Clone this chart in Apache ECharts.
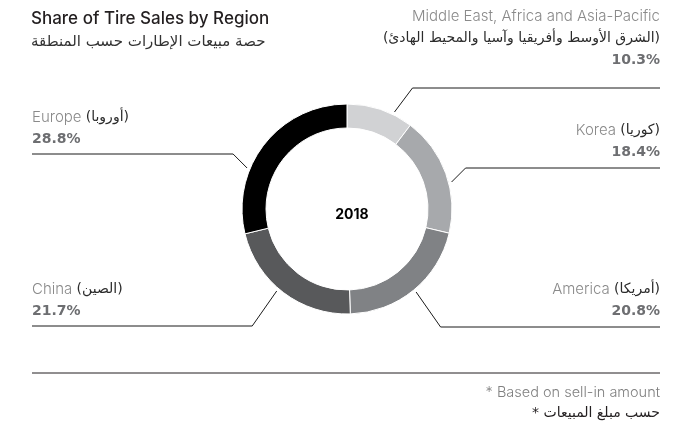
<!DOCTYPE html>
<html lang="en">
<head>
    <meta charset="UTF-8">
    <title>Share of Tire Sales by Region</title>
    <script src="https://cdn.jsdelivr.net/npm/echarts@6/dist/echarts.min.js"></script>
    <style>
        body, html {
            margin: 0;
            background: #fff;
        }
        #main {
            width: 700px;
            height: 427px;
        }
    </style>
</head>
<body>
<div id="main"></div>

<script>
    // chart data
    const regionsEn = ['Middle East, Africa and Asia-Pacific', 'Korea', 'America', 'China', 'Europe'];
    const regionsAr = ['(الشرق الأوسط وأفريقيا وآسيا والمحيط الهادئ)', '(كوريا)', '(أمريكا)', '(الصين)', '(أوروبا)'];
    const shares = [10.3, 18.4, 20.8, 21.7, 28.8];
    const year = '2018';
    const titleEn = 'Share of Tire Sales by Region';
    const titleAr = 'حصة مبيعات الإطارات حسب المنطقة';
    const noteEn = '* Based on sell-in amount';
    const noteAr = '* حسب مبلغ المبيعات';

    const sliceColors = ['#d1d2d4', '#a7a9ac', '#808285', '#58595b', '#000000'];

    // layout of the annotations (pixels)
    const CX = 347, CY = 209, R_IN = 81, R_OUT = 105;
    const LEFT_EDGE = 32, RIGHT_EDGE = 660;
    const underlineY = [88, 168, 327, 326, 154];
    const textLift = [17, 5, 5, 4, 4];

    const fontEn = "Inter, 'Open Sans', sans-serif";
    const fontAr = "'DejaVu Sans', sans-serif";
    const fontPct = "'DejaVu Sans', sans-serif";

    var chart = echarts.init(document.getElementById('main'));

    var option = {
        animation: false,
        title: [
            {
                text: titleEn,
                subtext: titleAr,
                left: 26,
                top: 4,
                itemGap: 3,
                textStyle: {fontFamily: fontEn, fontSize: 17, fontWeight: 500, color: '#231f20', lineHeight: 20},
                subtextStyle: {fontFamily: fontAr, fontSize: 15, fontWeight: 'normal', color: '#333', lineHeight: 20}
            },
            {
                text: year,
                left: CX,
                top: CY + 1,
                textAlign: 'center',
                textVerticalAlign: 'middle',
                textStyle: {fontFamily: fontEn, fontSize: 14, fontWeight: 'bold', color: '#000'}
            },
            {
                text: noteEn,
                right: 700 - RIGHT_EDGE - 5,
                top: 380,
                textStyle: {fontFamily: fontEn, fontSize: 14.5, fontWeight: 300, color: '#808080'}
            },
            {
                text: noteAr,
                right: 700 - RIGHT_EDGE - 5,
                top: 401,
                textStyle: {fontFamily: fontAr, fontSize: 14, fontWeight: 'normal', color: '#231f20'}
            }
        ],
        graphic: [
            {
                type: 'line',
                shape: {x1: LEFT_EDGE, y1: 373, x2: RIGHT_EDGE, y2: 373},
                style: {stroke: '#231f20', lineWidth: 1}
            }
        ],
        series: [
            {
                type: 'pie',
                radius: [R_IN, R_OUT],
                center: [CX, CY],
                startAngle: 90,
                clockwise: true,
                silent: true,
                avoidLabelOverlap: false,
                itemStyle: {borderColor: '#fff', borderWidth: 1},
                label: {
                    show: true,
                    position: 'outside',
                    lineHeight: 22,
                    formatter: function (p) {
                        const i = p.dataIndex;
                        const ar = regionsAr[i];
                        const arText = '{ar|' + ar + '}';
                        const nameLine = ar.indexOf(' ') >= 0
                            ? '{en|' + regionsEn[i] + '}\n' + arText
                            : '{en|' + regionsEn[i] + ' }' + arText;
                        return nameLine + '\n{pct|' + shares[i].toFixed(1) + '%}';
                    },
                    rich: {
                        en: {fontFamily: fontEn, fontSize: 15, fontWeight: 300, color: '#8a8a8a', lineHeight: 22},
                        ar: {fontFamily: fontAr, fontSize: 14, fontWeight: 'normal', color: '#2b2b2b', lineHeight: 22},
                        pct: {fontFamily: fontPct, fontSize: 14, fontWeight: 'bold', color: '#6d6e71', lineHeight: 22}
                    }
                },
                labelLine: {
                    show: true,
                    length: 10,
                    length2: 10,
                    lineStyle: {color: '#1a1a1a', width: 1}
                },
                labelLayout: function (params) {
                    const i = params.dataIndex;
                    const level = underlineY[i];
                    const right = params.labelLinePoints
                        ? params.labelLinePoints[0][0] >= CX
                        : i < 3;
                    const dir = right ? 1 : -1;
                    const upper = level < CY;
                    const aboveRing = level < CY - R_OUT;
                    // leader: short slanted piece from the ring, then a rule under the text
                    const dy = upper ? (aboveRing ? 24 : 14) : -35;
                    const slope = upper ? (aboveRing ? 0.75 : 1) : 0.7;
                    const ay = level + dy;
                    const ra = R_OUT + 3;
                    const ax = CX + dir * Math.sqrt(Math.max(ra * ra - (ay - CY) * (ay - CY), 0));
                    const ex = ax + dir * Math.abs(dy) * slope;
                    const edge = right ? RIGHT_EDGE : LEFT_EDGE;
                    return {
                        x: edge,
                        y: level - textLift[i],
                        align: right ? 'right' : 'left',
                        verticalAlign: 'bottom',
                        labelLinePoints: [[ax, ay], [ex, level], [edge, level]]
                    };
                },
                data: shares.map(function (v, i) {
                    return {name: regionsEn[i], value: v, itemStyle: {color: sliceColors[i]}};
                })
            }
        ]
    };

    chart.setOption(option);
</script>
</body>
</html>
